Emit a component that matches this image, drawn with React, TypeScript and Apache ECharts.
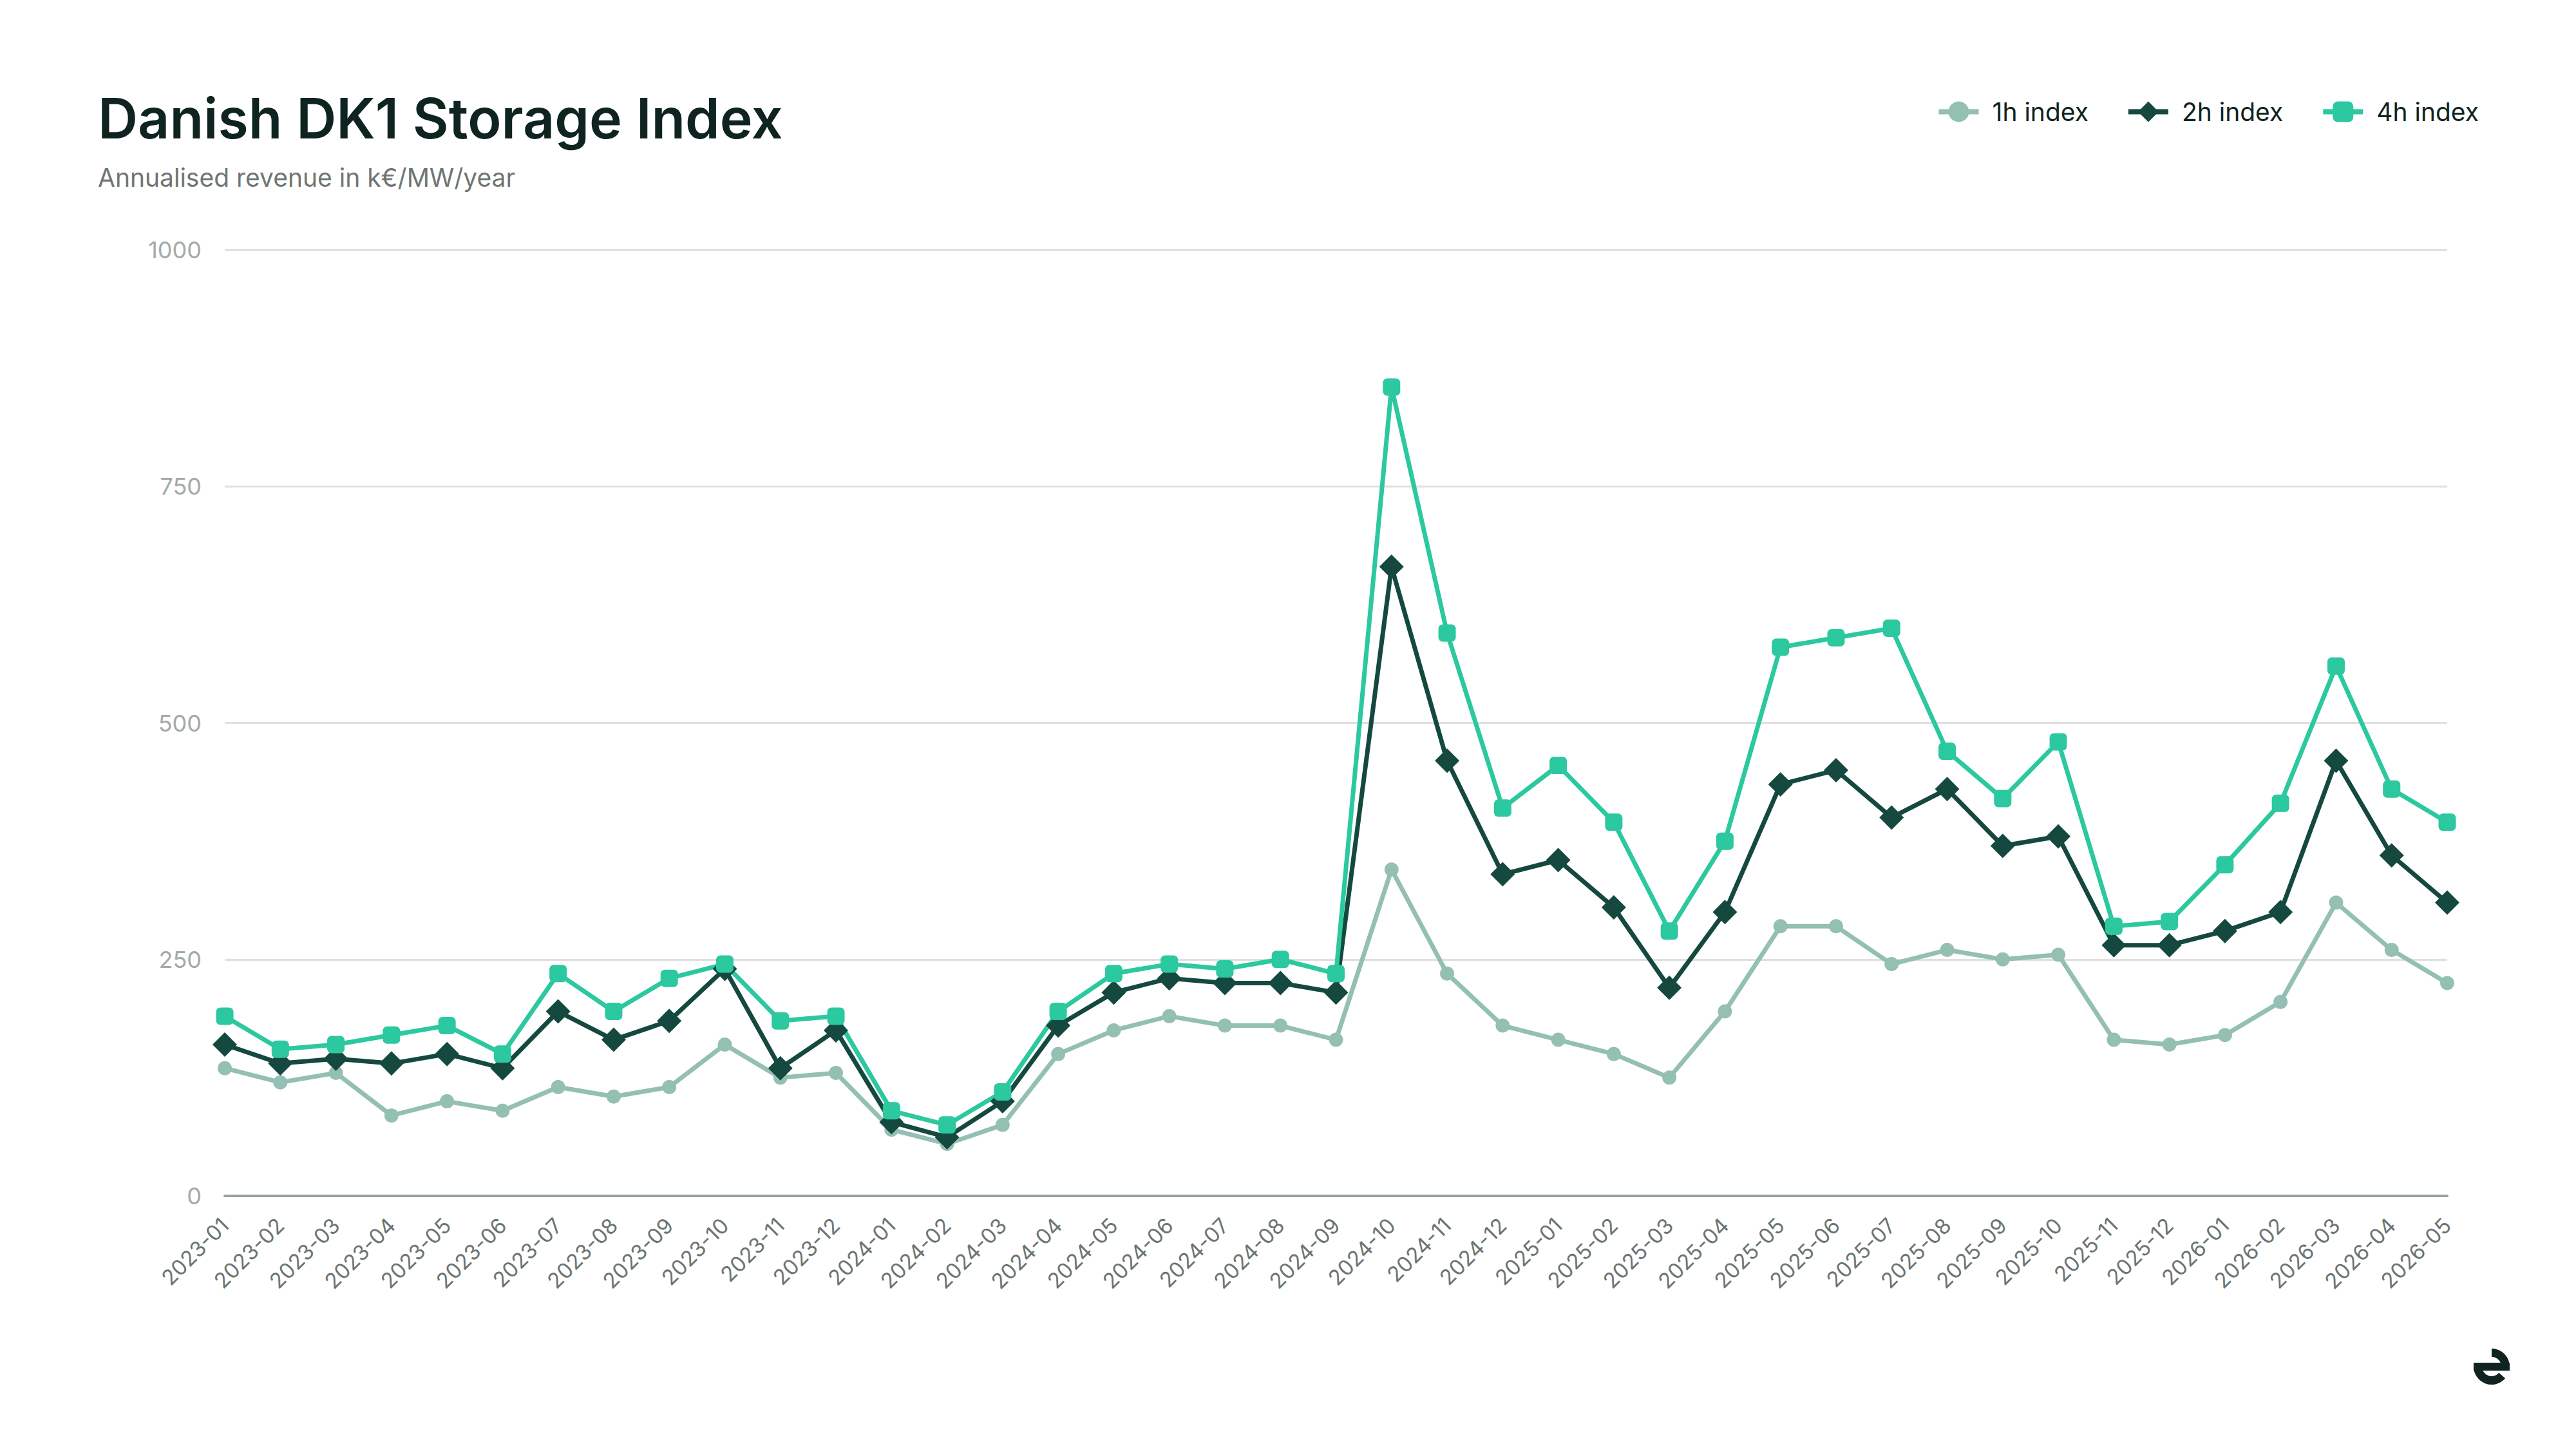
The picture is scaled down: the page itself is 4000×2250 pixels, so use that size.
import React, { useEffect, useRef } from "react";
import * as echarts from "echarts";

const categories = [
  "2023-01","2023-02","2023-03","2023-04","2023-05","2023-06","2023-07","2023-08","2023-09","2023-10","2023-11","2023-12",
  "2024-01","2024-02","2024-03","2024-04","2024-05","2024-06","2024-07","2024-08","2024-09","2024-10","2024-11","2024-12",
  "2025-01","2025-02","2025-03","2025-04","2025-05","2025-06","2025-07","2025-08","2025-09","2025-10","2025-11","2025-12",
  "2026-01","2026-02","2026-03","2026-04","2026-05",
];

const index1h = [
  135, 120, 130, 85, 100, 90, 115, 105, 115, 160, 125, 130,
  70, 55, 75, 150, 175, 190, 180, 180, 165, 345, 235, 180,
  165, 150, 125, 195, 285, 285, 245, 260, 250, 255, 165, 160,
  170, 205, 310, 260, 225,
];

const index2h = [
  160, 140, 145, 140, 150, 135, 195, 165, 185, 240, 135, 175,
  78, 62, 100, 180, 215, 230, 225, 225, 215, 665, 460, 340,
  355, 305, 220, 300, 435, 450, 400, 430, 370, 380, 265, 265,
  280, 300, 460, 360, 310,
];

const index4h = [
  190, 155, 160, 170, 180, 150, 235, 195, 230, 245, 185, 190,
  90, 75, 110, 195, 235, 245, 240, 250, 235, 855, 595, 410,
  455, 395, 280, 375, 580, 590, 600, 470, 420, 480, 285, 290,
  350, 415, 560, 430, 395,
];

const seriesNames = ["1h index", "2h index", "4h index"];
const yMin = 0;
const yMax = 1000;
const yInterval = 250;

const FONT = "Inter, 'Noto Sans', sans-serif";
const DARK = "#0f2420";
const C1 = "#94bfb3";
const C2 = "#15493f";
const C4 = "#2cc8a0";

export default function App() {
  const ref = useRef<HTMLDivElement>(null);

  useEffect(() => {
    if (!ref.current) return;
    const chart = echarts.init(ref.current, undefined, { renderer: "svg" });
    const logoCx = 3869;
    const logoCy = 2122;
    const option: any = {
      animation: false,
      backgroundColor: "#ffffff",
      textStyle: { fontFamily: FONT },
      title: [
        {
          text: "Danish DK1 Storage Index",
          left: 147,
          top: 136,
          padding: 5,
          textStyle: {
            fontFamily: FONT,
            fontSize: 86,
            fontWeight: 600,
            color: DARK,
            lineHeight: 86,
          },
        },
        {
          text: "Annualised revenue in k€/MW/year",
          left: 147,
          top: 251,
          padding: 5,
          textStyle: {
            fontFamily: FONT,
            fontSize: 39,
            fontWeight: 400,
            color: "#6e7673",
            lineHeight: 39,
          },
        },
      ],
      legend: {
        data: seriesNames,
        right: 146,
        top: 149,
        itemWidth: 62,
        itemHeight: 40,
        itemGap: 58,
        lineStyle: { width: 8 },
        textStyle: {
          fontFamily: FONT,
          fontSize: 39,
          color: DARK,
          padding: [0, 0, 0, 16],
        },
      },
      grid: {
        left: 349,
        right: 200,
        top: 388,
        bottom: 393,
        containLabel: false,
      },
      xAxis: {
        type: "category",
        data: categories,
        boundaryGap: false,
        axisTick: { show: false },
        axisLine: { show: true, lineStyle: { color: "#96a19d", width: 4 } },
        axisLabel: {
          rotate: 45,
          interval: 0,
          margin: 40,
          fontFamily: FONT,
          fontSize: 33,
          color: "#6b7572",
        },
        splitLine: { show: false },
      },
      yAxis: {
        type: "value",
        min: yMin,
        max: yMax,
        interval: yInterval,
        axisLine: { show: false },
        axisTick: { show: false },
        axisLabel: {
          margin: 36,
          fontFamily: FONT,
          fontSize: 36,
          color: "#a3aaa7",
          formatter: (v: number) => String(v),
        },
        splitLine: { show: true, lineStyle: { color: "#e0e0e0", width: 3 } },
      },
      series: [
        {
          name: seriesNames[0],
          type: "line",
          data: index1h,
          symbol: "circle",
          symbolSize: 22,
          color: C1,
          lineStyle: { color: C1, width: 7 },
          itemStyle: { color: C1 },
        },
        {
          name: seriesNames[1],
          type: "line",
          data: index2h,
          symbol: "diamond",
          symbolSize: 38,
          color: C2,
          lineStyle: { color: C2, width: 7 },
          itemStyle: { color: C2 },
        },
        {
          name: seriesNames[2],
          type: "line",
          data: index4h,
          symbol: "roundRect",
          symbolSize: 27,
          color: C4,
          lineStyle: { color: C4, width: 7 },
          itemStyle: { color: C4 },
        },
      ],
      graphic: [
        {
          type: "group",
          children: [
            {
              type: "rect",
              shape: { x: logoCx - 28, y: logoCy - 6, width: 56, height: 12.5 },
              style: { fill: DARK },
            },
            {
              type: "sector",
              shape: {
                cx: logoCx,
                cy: logoCy,
                r: 28,
                r0: 15,
                startAngle: -Math.PI / 2,
                endAngle: 0.02,
                clockwise: true,
              },
              style: { fill: DARK },
            },
            {
              type: "sector",
              shape: {
                cx: logoCx,
                cy: logoCy,
                r: 28,
                r0: 15,
                startAngle: (41 * Math.PI) / 180,
                endAngle: Math.PI + 0.02,
                clockwise: true,
              },
              style: { fill: DARK },
            },
          ],
        },
      ],
    };
    chart.setOption(option);
    return () => {
      chart.dispose();
    };
  }, []);

  return (
    <div
      ref={ref}
      style={{
        position: "fixed",
        left: 0,
        top: 0,
        width: 4000,
        height: 2250,
        background: "#ffffff",
      }}
    />
  );
}
